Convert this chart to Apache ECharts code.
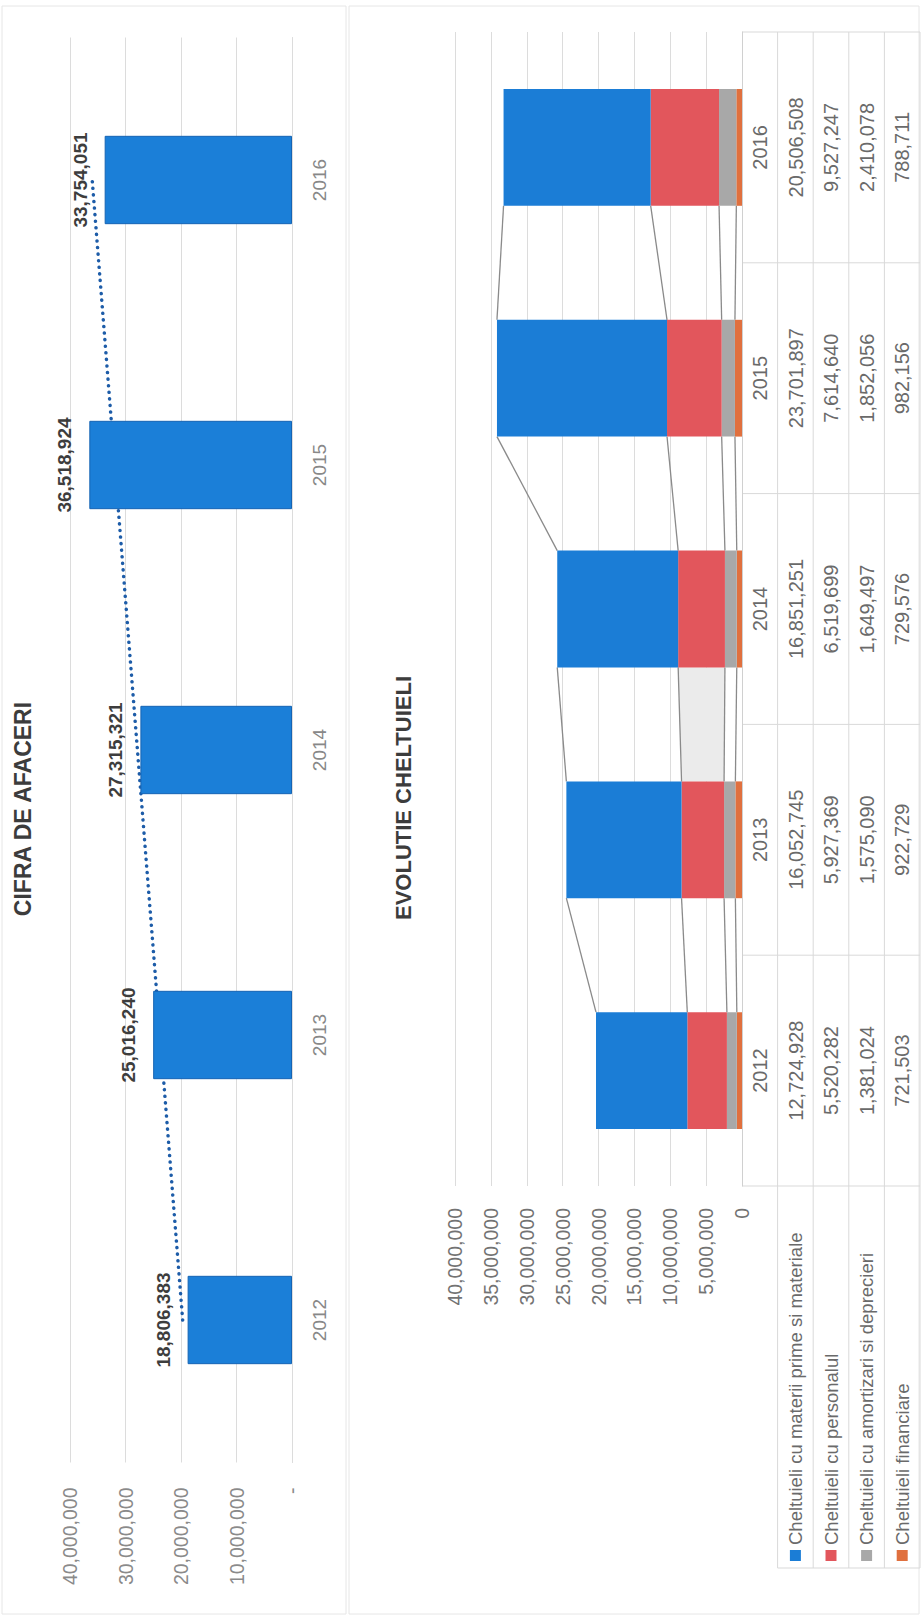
<!DOCTYPE html>
<html>
<head>
<meta charset="utf-8">
<script src="https://cdn.jsdelivr.net/npm/echarts@6/dist/echarts.min.js"></script>
<style>
html,body{margin:0;padding:0;background:#ffffff;overflow:hidden;width:921px;height:1618px;}
#main{position:absolute;left:0;top:0;width:1618px;height:921px;transform-origin:0 0;transform:translate(0,1618px) rotate(-90deg);}
</style>
</head>
<body>
<div id="main"></div>
<script>
// ---------- data ----------
const years = ['2012', '2013', '2014', '2015', '2016'];
const cifraAfaceri = [18806383, 25016240, 27315321, 36518924, 33754051];
// dotted linear trendline, end values
const trendline = [19700000, null, null, null, 36000000];
const cifraTicks = [0, 10000000, 20000000, 30000000, 40000000];

const materiiPrime = [12724928, 16052745, 16851251, 23701897, 20506508];
const personal = [5520282, 5927369, 6519699, 7614640, 9527247];
const amortizari = [1381024, 1575090, 1649497, 1852056, 2410078];
const financiare = [721503, 922729, 729576, 982156, 788711];
const cheltuieliTicks = [0, 5000000, 10000000, 15000000, 20000000, 25000000, 30000000, 35000000, 40000000];
const seriesNames = [
  'Cheltuieli cu materii prime si materiale',
  'Cheltuieli cu personalul',
  'Cheltuieli cu amortizari si deprecieri',
  'Cheltuieli financiare'
];
const titles = ['CIFRA DE AFACERI', 'EVOLUTIE CHELTUIELI'];

// ---------- layout / style ----------
const FONT = '"Liberation Sans", Arial, sans-serif';
const fmt = v => Number(v).toLocaleString('en-US');
const G1 = {left: 155.5, top: 70, width: 1425, height: 222};
const G2 = {left: 432, top: 455, width: 1154, height: 287};
const ROW_H = 35.6;
const BAR2_FRAC = 0.506;
const HIGHLIGHT_PAIR = 1;
const GRID_COLOR = '#dcdcdc';

const tableRows = [materiiPrime, personal, amortizari, financiare];
const stackOrder = [financiare, amortizari, personal, materiiPrime]; // base -> top
const stackNames = [seriesNames[3], seriesNames[2], seriesNames[1], seriesNames[0]];
const stackColors = ['#e0703e', '#a8a8a8', '#e2565c', '#1b7dd6'];

function cumTops(i) {
  let s = 0;
  return stackOrder.map(arr => (s += arr[i]));
}

const chart = echarts.init(document.getElementById('main'), null, {renderer: 'svg'});

const tableAxes = tableRows.map((row, k) => ({
  type: 'category', gridIndex: 1, data: years, position: 'bottom', offset: ROW_H * (k + 1),
  axisLine: {show: false}, axisTick: {show: false}, splitLine: {show: false},
  axisLabel: {interval: 0, margin: 8, fontSize: 20, color: '#6a6a6a', fontFamily: FONT,
    formatter: (v, idx) => fmt(row[idx])}
}));

// table lines (layout only)
const band2 = G2.width / years.length;
const tableBottom = G2.top + G2.height + ROW_H * 5;
const tableLines = [];
for (let k = 1; k <= 5; k++) {
  const y = G2.top + G2.height + ROW_H * k;
  tableLines.push({type: 'line', shape: {x1: 50, y1: y, x2: G2.left + G2.width, y2: y},
    style: {stroke: '#d9d9d9', lineWidth: 1}, silent: true});
}
for (let j = 0; j <= years.length; j++) {
  const x = G2.left + band2 * j;
  tableLines.push({type: 'line', shape: {x1: x, y1: G2.top + G2.height, x2: x, y2: tableBottom},
    style: {stroke: '#d9d9d9', lineWidth: 1}, silent: true});
}
tableLines.push({type: 'line', shape: {x1: 50, y1: G2.top + G2.height + ROW_H, x2: 50, y2: tableBottom},
  style: {stroke: '#d9d9d9', lineWidth: 1}, silent: true});

const option = {
  backgroundColor: '#ffffff',
  animation: false,
  textStyle: {fontFamily: FONT},
  grid: [
    {left: G1.left, top: G1.top, width: G1.width, height: G1.height},
    {left: G2.left, top: G2.top, width: G2.width, height: G2.height}
  ],
  legend: {
    data: seriesNames, orient: 'vertical', left: 57,
    top: G2.top + G2.height + ROW_H + (ROW_H - 20) / 2,
    itemWidth: 11, itemHeight: 11, itemGap: ROW_H - 20, icon: 'rect',
    selectedMode: false, padding: 0,
    textStyle: {fontSize: 18.5, lineHeight: 20, color: '#6a6a6a', fontFamily: FONT}
  },
  xAxis: [
    {type: 'category', gridIndex: 0, data: years,
      axisLine: {lineStyle: {color: GRID_COLOR}}, axisTick: {show: false},
      axisLabel: {interval: 0, margin: 18, fontSize: 19, color: '#888888', fontFamily: FONT}},
    {type: 'category', gridIndex: 1, data: years,
      axisLine: {lineStyle: {color: '#d0d0d0'}}, axisTick: {show: false},
      axisLabel: {interval: 0, margin: 8, fontSize: 20, color: '#6a6a6a', fontFamily: FONT}}
  ].concat(tableAxes),
  yAxis: [
    {type: 'value', gridIndex: 0, min: cifraTicks[0], max: cifraTicks[cifraTicks.length - 1],
      interval: cifraTicks[1] - cifraTicks[0],
      axisLine: {show: false}, axisTick: {show: false},
      splitLine: {lineStyle: {color: GRID_COLOR}},
      axisLabel: {margin: 25, fontSize: 19.5, color: '#8a8a8a', fontFamily: FONT,
        formatter: v => v === 0 ? '-' : fmt(v)}},
    {type: 'value', gridIndex: 1, min: cheltuieliTicks[0], max: cheltuieliTicks[cheltuieliTicks.length - 1],
      interval: cheltuieliTicks[1] - cheltuieliTicks[0],
      axisLine: {show: false}, axisTick: {show: false},
      splitLine: {lineStyle: {color: GRID_COLOR}},
      axisLabel: {margin: 22, fontSize: 19.5, color: '#737373', fontFamily: FONT,
        formatter: v => fmt(v)}}
  ],
  series: [
    {
      type: 'line', name: 'trend', xAxisIndex: 0, yAxisIndex: 0, data: trendline,
      connectNulls: true, symbol: 'none', silent: true, z: 1,
      lineStyle: {color: '#1d5ca8', width: 3.5, type: [0.1, 6.5], cap: 'round'}
    },
    {
      type: 'bar', name: 'Cifra de afaceri', xAxisIndex: 0, yAxisIndex: 0, data: cifraAfaceri,
      barWidth: '31%', z: 3,
      itemStyle: {color: '#1b7fd8', borderColor: '#1564b4', borderWidth: 1},
      label: {show: true, position: 'top', distance: 15, fontSize: 19, fontWeight: 'bold',
        color: '#3d3d3d', fontFamily: FONT, formatter: p => fmt(p.value)}
    },
    {
      type: 'custom', name: 'series lines', xAxisIndex: 1, yAxisIndex: 1, silent: true, z: 1,
      data: years.slice(0, -1).map((y, i) => [i, 0]),
      renderItem: function (params, api) {
        const i = params.dataIndex;
        const band = api.size([1, 0])[0];
        const half = band * BAR2_FRAC / 2;
        const a = cumTops(i), b = cumTops(i + 1);
        const children = [];
        if (i === HIGHLIGHT_PAIR) {
          const p1 = api.coord([i, a[1]]), p2 = api.coord([i + 1, b[1]]);
          const p3 = api.coord([i + 1, b[2]]), p4 = api.coord([i, a[2]]);
          children.push({type: 'polygon',
            shape: {points: [[p1[0] + half, p1[1]], [p2[0] - half, p2[1]], [p3[0] - half, p3[1]], [p4[0] + half, p4[1]]]},
            style: {fill: '#ebebeb'}});
        }
        a.forEach((v, L) => {
          const p = api.coord([i, v]), q = api.coord([i + 1, b[L]]);
          children.push({type: 'line', shape: {x1: p[0] + half, y1: p[1], x2: q[0] - half, y2: q[1]},
            style: {stroke: '#8a8a8a', lineWidth: 1.3}});
        });
        return {type: 'group', children: children};
      }
    }
  ].concat(stackOrder.map((arr, k) => ({
    type: 'bar', name: stackNames[k], xAxisIndex: 1, yAxisIndex: 1, stack: 'total', data: arr,
    barWidth: (BAR2_FRAC * 100) + '%', z: 3,
    itemStyle: {color: stackColors[k]}
  }))),
  graphic: [
    {type: 'rect', shape: {x: 4, y: 2, width: 1608, height: 344}, style: {fill: 'none', stroke: '#e6e6e6', lineWidth: 1}, silent: true, z: -1},
    {type: 'rect', shape: {x: 4, y: 349, width: 1608, height: 570}, style: {fill: 'none', stroke: '#e6e6e6', lineWidth: 1}, silent: true, z: -1},
    {type: 'text', x: 809, y: 23, silent: true,
      style: {text: titles[0], font: 'bold 23px ' + FONT, fill: '#3c3c3c', textAlign: 'center', textVerticalAlign: 'middle'}},
    {type: 'text', x: 820, y: 403, silent: true,
      style: {text: titles[1], font: 'bold 22px ' + FONT, fill: '#3c3c3c', textAlign: 'center', textVerticalAlign: 'middle'}}
  ].concat(tableLines)
};

chart.setOption(option);
</script>
</body>
</html>
